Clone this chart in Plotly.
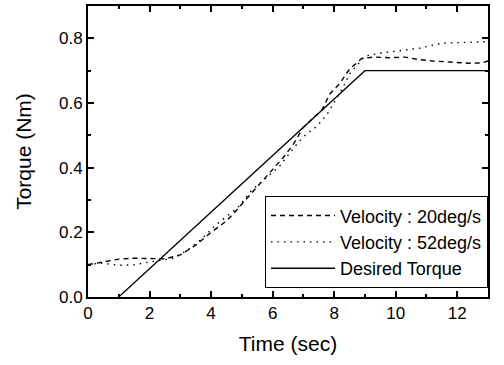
import plotly.graph_objects as go

# Data
t_20 = [0, 0.5, 1.0, 1.5, 2.0, 2.5, 3.0, 3.5, 4.0, 4.5, 4.84, 5.3, 5.9, 6.33, 6.66, 7.0, 7.3, 7.6, 7.86, 8.18, 8.5, 8.9, 9.3, 9.8, 10.3, 10.7, 11.2, 11.8, 12.4, 12.8, 13.0]
v_20 = [0.10, 0.108, 0.117, 0.12, 0.118, 0.118, 0.13, 0.16, 0.20, 0.235, 0.27, 0.32, 0.385, 0.43, 0.47, 0.525, 0.552, 0.578, 0.628, 0.66, 0.705, 0.738, 0.742, 0.74, 0.742, 0.735, 0.73, 0.727, 0.723, 0.724, 0.73]

t_52 = [0, 0.4, 1.04, 1.5, 2.0, 2.8, 3.3, 3.7, 4.12, 4.87, 5.32, 5.8, 6.23, 6.66, 6.88, 7.1, 7.37, 7.6, 7.8, 8.08, 8.28, 8.5, 8.77, 9.0, 9.5, 10.0, 10.8, 11.5, 12.2, 12.9, 13.0]
v_52 = [0.10, 0.105, 0.098, 0.10, 0.108, 0.12, 0.15, 0.18, 0.22, 0.277, 0.33, 0.37, 0.405, 0.458, 0.483, 0.504, 0.523, 0.545, 0.57, 0.615, 0.646, 0.69, 0.72, 0.745, 0.754, 0.76, 0.77, 0.785, 0.787, 0.79, 0.79]

t_des = [1, 9, 13]
v_des = [0.0, 0.7, 0.7]

x_ticks = [0, 2, 4, 6, 8, 10, 12]
y_ticks = [0.0, 0.2, 0.4, 0.6, 0.8]

FONT = "Liberation Sans, Arial, sans-serif"

fig = go.Figure()
fig.add_trace(go.Scatter(x=t_20, y=v_20, mode="lines", name="Velocity : 20deg/s",
                         line=dict(color="black", width=1.4, dash="5px,4px")))
fig.add_trace(go.Scatter(x=t_52, y=v_52, mode="lines", name="Velocity : 52deg/s",
                         line=dict(color="black", width=1.4, dash="1.5px,5px")))
fig.add_trace(go.Scatter(x=t_des, y=v_des, mode="lines", name="Desired Torque",
                         line=dict(color="black", width=1.3)))

axis_common = dict(
    showline=True, linecolor="black", linewidth=2, mirror="allticks",
    ticks="inside", ticklen=6, tickwidth=1.5, tickcolor="black",
    showgrid=False, zeroline=False,
    tickfont=dict(family=FONT, size=17, color="black"),
)

fig.update_xaxes(range=[0, 13], tickvals=x_ticks, ticktext=[str(v) for v in x_ticks],
                 minor=dict(dtick=1, tick0=0, ticks="inside", ticklen=3, tickwidth=1.5, tickcolor="black"),
                 title=dict(text="Time (sec)", font=dict(family=FONT, size=21, color="black"), standoff=14),
                 **axis_common)
fig.update_yaxes(range=[0, 0.9], tickvals=y_ticks, ticktext=[f"{v:.1f}" for v in y_ticks],
                 minor=dict(dtick=0.1, tick0=0, ticks="inside", ticklen=3, tickwidth=1.5, tickcolor="black"),
                 title=dict(text="Torque (Nm)", font=dict(family=FONT, size=21, color="black"), standoff=22),
                 **axis_common)

fig.update_layout(
    width=504, height=365,
    margin=dict(l=88, r=16, t=4, b=68),
    plot_bgcolor="white", paper_bgcolor="white",
    font=dict(family=FONT, size=17, color="black"),
    legend=dict(x=1, xanchor="right", y=0.03, yanchor="bottom",
                bgcolor="white", bordercolor="black", borderwidth=1,
                font=dict(family=FONT, size=18, color="black"),
                itemwidth=64, tracegroupgap=0),
    showlegend=True,
)

fig.write_html("out.html")
